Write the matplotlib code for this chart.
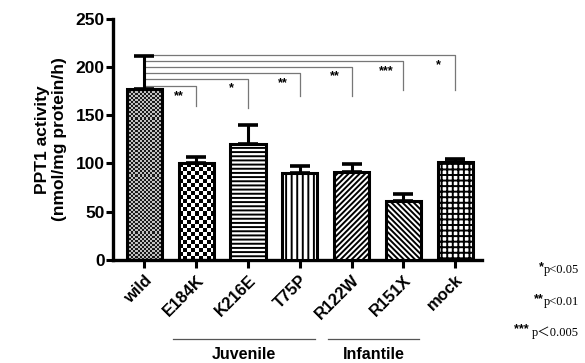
import numpy as np
import matplotlib
matplotlib.use("Agg")
import matplotlib.pyplot as plt
from matplotlib.transforms import blended_transform_factory

# values
samples = ["wild", "E184K", "K216E", "T75P", "R122W", "R151X", "mock"]
activity = [177, 100, 120, 90, 91, 61, 102]
sem = [35, 7, 20, 7, 8, 7, 3]
hatches = [None, None, "----", "|||", "//////", "\\\\\\\\\\\\", "+++"]
checker = {0: (17, 2.1, 0.1, 0.75), 1: (9, 4.2, 0.0, 1.0)}  # cols, cell height, dark, light

# significance brackets against wild
sig_target = [1, 2, 3, 4, 5, 6]
sig_level = [180.5, 188, 194, 200.5, 206.5, 212.5]
sig_drop = [160, 157.5, 170.5, 170.5, 176, 176]
sig_text = ["**", "*", "**", "**", "***", "*"]

groups = ["Juvenile", "Infantile"]
group_members = [(1, 3), (4, 5)]
legend_stars = ["*", "**", "*** "]
legend_p = ["p<0.05", "p<0.01", "p＜0.005"]

plt.rcParams["font.family"] = ["Liberation Sans", "DejaVu Sans"]
plt.rcParams["hatch.linewidth"] = 1.4

fig = plt.figure(figsize=(5.85, 3.63), dpi=100)
ax = fig.add_axes([0.193, 0.284, 0.631, 0.664])

x = np.arange(len(samples))
bars = ax.bar(x, activity, width=0.68, color="white", edgecolor="black",
              linewidth=2.2, zorder=3)
for b, h in zip(bars, hatches):
    if h:
        b.set_hatch(h)
ax.errorbar(x, activity, yerr=[np.zeros(len(sem)), sem], fmt="none",
            ecolor="black", elinewidth=2.2, capsize=7, capthick=2.6, zorder=2)

# checkerboard fills for wild and E184K
for i, (ncol, cell, lo, hi) in checker.items():
    b = bars[i]
    b.set_facecolor("none")
    nrow = int(round(b.get_height() / cell))
    rr, cc = np.indices((nrow, ncol))
    arr = np.where((rr + cc) % 2 == 0, lo, hi)
    im = ax.imshow(arr, extent=(b.get_x(), b.get_x() + b.get_width(), 0, b.get_height()),
                   cmap="gray", vmin=0, vmax=1, interpolation="nearest",
                   aspect="auto", zorder=2.5)
    im.set_clip_path(b)

# brackets
for t, lev, drop, s in zip(sig_target, sig_level, sig_drop, sig_text):
    ax.plot([x[0], x[t], x[t]], [lev, lev, drop], color="#777777", lw=0.9,
            zorder=1, clip_on=False)
    ax.text(x[t] - 0.33, lev - 4, s, ha="center", va="top", fontsize=9,
            fontweight="bold", color="black")

ax.set_xlim(-0.61, 6.52)
ax.set_ylim(0, 250)
ax.set_yticks(np.arange(0, 251, 50))
ax.set_xticks(x)
ax.set_xticklabels(samples, rotation=45, ha="right", va="top",
                   rotation_mode="anchor", fontsize=12, fontweight="bold")
for lab in ax.get_yticklabels():
    lab.set_fontweight("bold")
    lab.set_fontsize(12.5)
ax.tick_params(axis="both", direction="out", width=2.2, length=5, pad=1)
ax.tick_params(axis="x", length=6, pad=3)
for side in ["top", "right"]:
    ax.spines[side].set_visible(False)
for side in ["left", "bottom"]:
    ax.spines[side].set_linewidth(2.4)

ax.set_ylabel("PPT1 activity\n(nmol/mg protein/h)", fontsize=12.5,
              fontweight="bold", labelpad=6, linespacing=1.2)

# group underlines
trans = blended_transform_factory(ax.transData, ax.transAxes)
for name, (a, b) in zip(groups, group_members):
    x0, x1 = a - 0.45, b + 0.3
    ax.plot([x0, x1], [-0.328, -0.328], color="#555555", lw=0.9,
            transform=trans, clip_on=False)
    ax.text((x0 + x1) / 2, -0.392, name, transform=trans, ha="center",
            va="center", fontsize=11.5, fontweight="bold")

# p-value key
for k, (st, p) in enumerate(zip(legend_stars, legend_p)):
    y = 0.255 - k * 0.086
    t = fig.text(0.99, y, p, ha="right", va="center", fontsize=9,
                 family=["Liberation Serif", "Noto Sans CJK SC"])
    fig.canvas.draw()
    bb = t.get_window_extent()
    fig.text(bb.x0 / fig.bbox.width, y + 0.008, st, ha="right", va="center",
             fontsize=9, fontweight="bold")

fig.savefig("out.png", dpi=100)
